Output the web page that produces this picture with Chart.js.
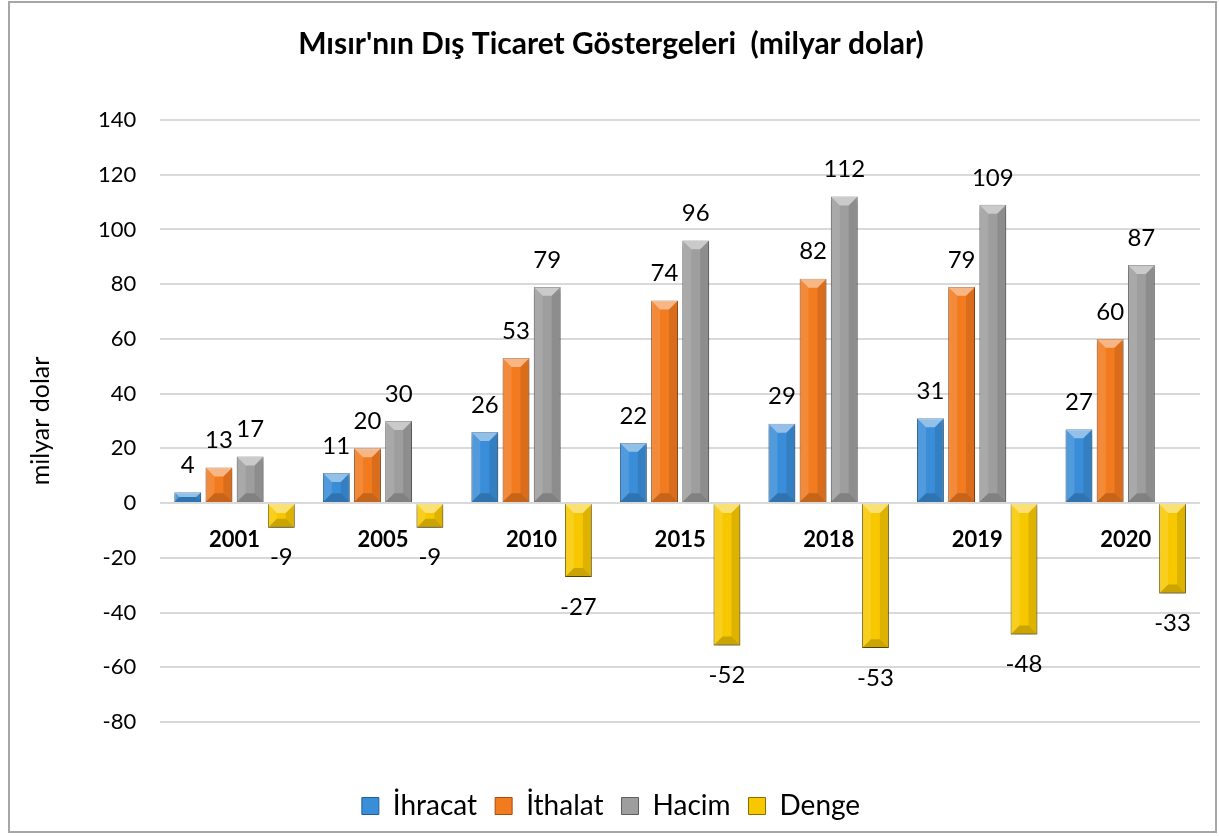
<!DOCTYPE html>
<html>
<head>
<meta charset="utf-8">
<script src="https://cdn.jsdelivr.net/npm/chart.js@4"></script>
<style>
  html, body { margin: 0; padding: 0; background: #fff; }
  #wrap { width: 1219px; height: 836px; }
</style>
</head>
<body>
<div id="wrap"><canvas id="chart" width="1219" height="836"></canvas></div>
<script>
// veriler
const years = ["2001", "2005", "2010", "2015", "2018", "2019", "2020"];
const ihracat = [4, 11, 26, 22, 29, 31, 27];
const ithalat = [13, 20, 53, 74, 82, 79, 60];
const hacim = [17, 30, 79, 96, 112, 109, 87];
const denge = [-9, -9, -27, -52, -53, -48, -33];

const seriesNames = ["İhracat", "İthalat", "Hacim", "Denge"];
const fills = ["#3a8dd8", "#f27a1f", "#9e9e9e", "#f7c800"];
const edges = ["#1f5f99", "#a84c0c", "#5e5e5e", "#8a6d00"];

const FONT = "Lato, 'Open Sans', sans-serif";

// bevel + shadow effect on each bar
const bevelPlugin = {
  id: "bevel",
  beforeDatasetsDraw(chart) {
    const ctx = chart.ctx;
    ctx.save();
    ctx.shadowColor = "rgba(0,0,0,0.35)";
    ctx.shadowBlur = 5;
    ctx.shadowOffsetY = 3;
  },
  afterDatasetsDraw(chart) {
    const ctx = chart.ctx;
    ctx.restore();
    chart.data.datasets.forEach((ds, i) => {
      const meta = chart.getDatasetMeta(i);
      meta.data.forEach(bar => {
        const l = bar.x - bar.width / 2, r = bar.x + bar.width / 2;
        const t = Math.min(bar.y, bar.base), b = Math.max(bar.y, bar.base);
        const s = Math.min(9, bar.width / 3, (b - t) / 2);
        ctx.save();
        ctx.fillStyle = "rgba(255,255,255,0.45)";
        ctx.beginPath();
        ctx.moveTo(l, t); ctx.lineTo(r, t); ctx.lineTo(r - s, t + s); ctx.lineTo(l + s, t + s);
        ctx.closePath(); ctx.fill();
        ctx.fillStyle = "rgba(0,0,0,0.18)";
        ctx.beginPath();
        ctx.moveTo(l, b); ctx.lineTo(r, b); ctx.lineTo(r - s, b - s); ctx.lineTo(l + s, b - s);
        ctx.closePath(); ctx.fill();
        ctx.fillStyle = "rgba(255,255,255,0.12)";
        ctx.beginPath();
        ctx.moveTo(l, t); ctx.lineTo(l + s, t + s); ctx.lineTo(l + s, b - s); ctx.lineTo(l, b);
        ctx.closePath(); ctx.fill();
        ctx.fillStyle = "rgba(0,0,0,0.1)";
        ctx.beginPath();
        ctx.moveTo(r, t); ctx.lineTo(r - s, t + s); ctx.lineTo(r - s, b - s); ctx.lineTo(r, b);
        ctx.closePath(); ctx.fill();
        ctx.restore();
      });
    });
  }
};

// value labels above / below bars
const valueLabels = {
  id: "valueLabels",
  afterDatasetsDraw(chart) {
    const ctx = chart.ctx;
    ctx.save();
    ctx.font = "24px " + FONT;
    ctx.fillStyle = "#000";
    ctx.textAlign = "center";
    ctx.textBaseline = "middle";
    chart.data.datasets.forEach((ds, i) => {
      chart.getDatasetMeta(i).data.forEach((bar, j) => {
        const v = ds.data[j];
        const y = v >= 0 ? bar.y - 27 : bar.y + 30;
        ctx.fillText(String(v), bar.x, y);
      });
    });
    ctx.restore();
  }
};

// outer frame
const frame = {
  id: "frame",
  afterDraw(chart) {
    const ctx = chart.ctx;
    ctx.save();
    ctx.strokeStyle = "#a6a6a6";
    ctx.lineWidth = 2;
    ctx.strokeRect(9, 2, 1207, 830);
    ctx.restore();
  }
};

new Chart(document.getElementById("chart"), {
  type: "bar",
  data: {
    labels: years,
    datasets: [ihracat, ithalat, hacim, denge].map((d, i) => ({
      label: seriesNames[i],
      data: d,
      backgroundColor: fills[i],
      borderColor: edges[i],
      borderWidth: 1,
      categoryPercentage: 0.84,
      barPercentage: 0.86
    }))
  },
  options: {
    responsive: false,
    animation: false,
    layout: { padding: { top: 10, left: 22, right: 19, bottom: 6 } },
    plugins: {
      title: {
        display: true,
        text: "Mısır'nın Dış Ticaret Göstergeleri  (milyar dolar)",
        color: "#000",
        font: { family: FONT, size: 30, weight: "bold" },
        padding: { top: 16, bottom: 58 }
      },
      legend: {
        position: "bottom",
        title: {
          display: true,
          text: " ",
          font: { size: 10 },
          padding: { top: 40, bottom: 0 }
        },
        labels: {
          color: "#000",
          font: { family: FONT, size: 28 },
          boxWidth: 17,
          boxHeight: 17,
          padding: 18
        }
      },
      tooltip: { enabled: false }
    },
    scales: {
      x: {
        position: { y: 0 },
        grid: { display: false },
        border: { display: false },
        ticks: {
          color: "#000",
          font: { family: FONT, size: 22, weight: "bold" },
          padding: 16
        }
      },
      y: {
        min: -80,
        max: 140,
        ticks: {
          stepSize: 20,
          color: "#000",
          font: { family: FONT, size: 22 },
          padding: 24
        },
        grid: { color: "#d9d9d9", lineWidth: 2, drawTicks: false },
        border: { display: false },
        title: {
          display: true,
          text: "milyar dolar",
          color: "#000",
          font: { family: FONT, size: 25 },
          padding: { bottom: 18 }
        }
      }
    }
  },
  plugins: [bevelPlugin, valueLabels, frame]
});
</script>
</body>
</html>
